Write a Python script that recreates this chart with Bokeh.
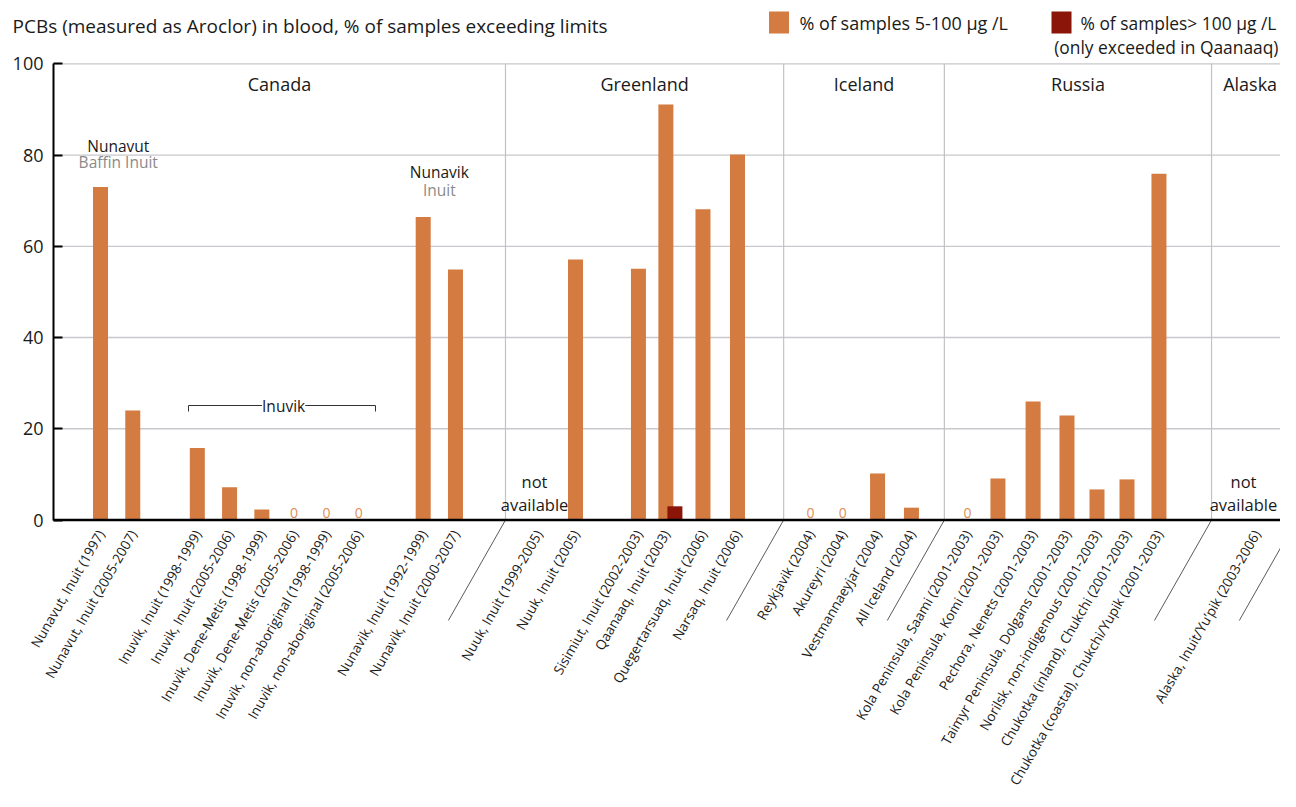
import math
from bokeh.plotting import figure
from bokeh.models import Range1d, FixedTicker, Label, LabelSet, ColumnDataSource
from bokeh.core.properties import value
from bokeh.embed import file_html
from bokeh.resources import INLINE

# ---------------- data ----------------
title_text = "PCBs (measured as Aroclor) in blood, % of samples exceeding limits"
legend_low = "% of samples 5-100 \u00b5g /L"
legend_high = "% of samples> 100 \u00b5g /L"
legend_high_note = "(only exceeded in Qaanaaq)"

countries = ["Canada", "Greenland", "Iceland", "Russia", "Alaska"]

categories = [
    "Nunavut, Inuit (1997)",
    "Nunavut, Inuit (2005-2007)",
    "Inuvik, Inuit (1998-1999)",
    "Inuvik, Inuit (2005-2006)",
    "Inuvik, Dene-Metis (1998-1999)",
    "Inuvik, Dene-Metis (2005-2006)",
    "Inuvik, non-aboriginal (1998-1999)",
    "Inuvik, non-aboriginal (2005-2006)",
    "Nunavik, Inuit (1992-1999)",
    "Nunavik, Inuit (2000-2007)",
    "Nuuk, Inuit (1999-2005)",
    "Nuuk, Inuit (2005)",
    "Sisimiut, Inuit (2002-2003)",
    "Qaanaaq, Inuit (2003)",
    "Quegertarsuaq, Inuit (2006)",
    "Narsaq, Inuit (2006)",
    "Reykjavik (2004)",
    "Akureyri (2004)",
    "Vestmannaeyjar (2004)",
    "All Iceland (2004)",
    "Kola Peninsula, Saami (2001-2003)",
    "Kola Peninsula, Komi (2001-2003)",
    "Pechora, Nenets (2001-2003)",
    "Taimyr Peninsula, Dolgans (2001-2003)",
    "Norilsk, non-indigenous (2001-2003)",
    "Chukotka (inland), Chukchi (2001-2003)",
    "Chukotka (coastal), Chukchi/Yupik (2001-2003)",
    "Alaska, Inuit/Yu\u2019pik (2003-2006)",
]

# % of samples 5-100 ug/L  (None = not available)
pct_5_100 = [73, 24, 15.8, 7.2, 2.3, 0, 0, 0, 66.4, 54.9,
             None, 57.1, 55.1, 91.1, 68.1, 80.1,
             0, 0, 10.2, 2.7,
             0, 9.1, 26.0, 22.9, 6.7, 8.9, 75.9,
             None]

# % of samples > 100 ug/L
pct_over_100 = [None] * 13 + [3.0] + [None] * 14

y_ticks = [0, 20, 40, 60, 80, 100]

# ---------------- layout (slot units / pixel helpers) ----------------
W, H = 1280, 791
SLOT_PX = 32.27
Y_PX = 4.562


def sx(px):
    return (px - 100) / SLOT_PX


def sy(py):
    return (519.5 - py) / Y_PX


x_pos = [0, 1, 3, 4, 5, 6, 7, 8, 10, 11,
         13.57, 14.72, 16.67, 17.52, 18.67, 19.74,
         22.0, 23.0, 24.08, 25.13,
         26.87, 27.81, 28.90, 29.95, 30.88, 31.81, 32.80,
         35.82]
boundaries = [12.55, 21.17, 26.15, 34.43]
right_slant = 37.06
axis_x = sx(53)
x_right = sx(W)

ORANGE = "#d37b41"
DARKRED = "#8b1508"
ZERO_COL = "#e08d57"
TXT = "#1a1a1a"
FONT = "Open Sans"

p = figure(width=W, height=H, output_backend="svg", toolbar_location=None,
           x_range=Range1d(sx(0), x_right), y_range=Range1d(sy(H), sy(0)),
           x_axis_type=None, title=None,
           min_border_left=0, min_border_right=0, min_border_top=0, min_border_bottom=0)
p.outline_line_color = None
p.background_fill_color = "white"
p.border_fill_color = "white"
for g in p.xgrid:
    g.visible = False
for g in p.ygrid:
    g.visible = False

# y axis, drawn at the left edge of the chart area
ya = p.yaxis[0]
ya.fixed_location = axis_x
ya.ticker = FixedTicker(ticks=y_ticks)
ya.bounds = (0, 100)
ya.axis_line_color = "black"
ya.axis_line_width = 2
ya.major_tick_line_color = "black"
ya.major_tick_line_width = 2
ya.major_tick_in = 9
ya.major_tick_out = 0
ya.minor_tick_line_color = None
ya.major_label_text_font = FONT
ya.major_label_text_font_size = "18px"
ya.major_label_text_color = TXT
ya.major_label_standoff = 10

# horizontal grid lines at the tick values
p.segment(x0=[axis_x] * len(y_ticks), y0=y_ticks, x1=[x_right] * len(y_ticks), y1=y_ticks,
          line_color="#c8c8cd", line_width=1.3)

# group separators
p.segment(x0=boundaries, y0=[0] * len(boundaries), x1=boundaries, y1=[100] * len(boundaries),
          line_color="#c2c2c2", line_width=1.2)
slants = boundaries + [right_slant]
p.segment(x0=slants, y0=[0] * len(slants), x1=[b - 1.77 for b in slants], y1=[sy(620)] * len(slants),
          line_color="#5a5a5a", line_width=1)

# bars
avail = [(x, v) for x, v in zip(x_pos, pct_5_100) if v is not None and v > 0]
p.vbar(x=[a[0] for a in avail], top=[a[1] for a in avail], width=0.465,
       fill_color=ORANGE, line_color=None)
hi = [(x + 0.28, v) for x, v in zip(x_pos, pct_over_100) if v is not None]
p.vbar(x=[h[0] for h in hi], top=[h[1] for h in hi], width=0.465,
       fill_color=DARKRED, line_color=None)

# baseline (x axis line)
p.segment(x0=[axis_x], y0=[0], x1=[x_right], y1=[0], line_color="black", line_width=2.5)

# zero labels
zero_x = [x for x, v in zip(x_pos, pct_5_100) if v == 0]
zsrc = ColumnDataSource(dict(x=zero_x, y=[sy(517.5)] * len(zero_x), t=["0"] * len(zero_x)))
p.add_layout(LabelSet(x="x", y="y", text="t", source=zsrc, text_align="center",
                      text_baseline="alphabetic", text_font=value(FONT),
                      text_font_size="14px", text_color=ZERO_COL))

# not available (kept inside the canvas)
na_x = [min(x - 0.12, sx(W - 37)) for x, v in zip(x_pos, pct_5_100) if v is None]
for word, py in (("not", 481), ("available", 503.5)):
    s = ColumnDataSource(dict(x=na_x, y=[sy(py)] * len(na_x), t=[word] * len(na_x)))
    p.add_layout(LabelSet(x="x", y="y", text="t", source=s, text_align="center",
                          text_baseline="middle", text_font=value(FONT),
                          text_font_size="16.5px", text_color=TXT))

# category labels (rotated)
csrc = ColumnDataSource(dict(x=x_pos, y=[sy(530.5)] * len(x_pos), t=categories))
p.add_layout(LabelSet(x="x", y="y", text="t", source=csrc, angle=math.radians(60),
                      text_align="right", text_baseline="middle", text_font=value(FONT),
                      text_font_size="13.6px", text_color=TXT))

# country labels
edges = [axis_x] + boundaries + [right_slant]
mids = [(a + b) / 2 for a, b in zip(edges[:-1], edges[1:])]
mids[-1] -= 0.12
gsrc = ColumnDataSource(dict(x=mids, y=[sy(83)] * len(mids), t=countries))
p.add_layout(LabelSet(x="x", y="y", text="t", source=gsrc, text_align="center",
                      text_baseline="middle", text_font=value(FONT),
                      text_font_size="18px", text_color=TXT))

# region annotations
nunavut_mid = (x_pos[0] + x_pos[1]) / 2 + 0.05
nunavik_mid = (x_pos[8] + x_pos[9]) / 2
for txt, x, py, col in (("Nunavut", nunavut_mid, 145, TXT), ("Baffin Inuit", nunavut_mid, 161.5, "#8a8a8a"),
                        ("Nunavik", nunavik_mid, 171, TXT), ("Inuit", nunavik_mid, 189, "#8a8a8a")):
    p.add_layout(Label(x=x, y=sy(py), text=txt, text_align="center", text_baseline="middle",
                       text_font=FONT, text_font_size="15.5px", text_color=col))

# Inuvik bracket
bl, br = sx(188), sx(375)
p.segment(x0=[bl, bl, br], y0=[sy(405), sy(405), sy(405)], x1=[br, bl, br], y1=[sy(405), sy(411), sy(411)],
          line_color="#333333", line_width=1)
p.add_layout(Label(x=(bl + br) / 2 + 0.05, y=sy(405), text="Inuvik", text_align="center", text_baseline="middle",
                   text_font=FONT, text_font_size="15.5px", text_color=TXT,
                   background_fill_color="white"))

# title
p.add_layout(Label(x=sx(12), y=sy(25), text=title_text, text_align="left", text_baseline="middle",
                   text_font=FONT, text_font_size="19px", text_color=TXT))

# legend
p.rect(x=[sx(778.5)], y=[sy(22)], width=20, height=22, width_units="screen", height_units="screen",
       fill_color=ORANGE, line_color=None)
p.rect(x=[sx(1061)], y=[sy(22)], width=20, height=22, width_units="screen", height_units="screen",
       fill_color=DARKRED, line_color=None)
p.add_layout(Label(x=sx(799), y=sy(22), text=legend_low, text_align="left", text_baseline="middle",
                   text_font=FONT, text_font_size="18px", text_color=TXT))
p.add_layout(Label(x=sx(1080), y=sy(22), text=legend_high, text_align="left", text_baseline="middle",
                   text_font=FONT, text_font_size="17.4px", text_color=TXT))
p.add_layout(Label(x=sx(1278), y=sy(46), text=legend_high_note, text_align="right", text_baseline="middle",
                   text_font=FONT, text_font_size="17.4px", text_color=TXT))

open("out.html", "w").write(file_html(p, INLINE))
